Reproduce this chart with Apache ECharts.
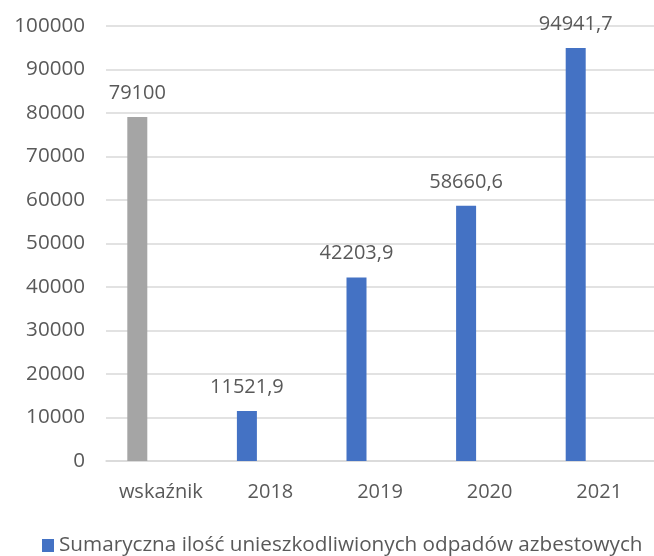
<!DOCTYPE html>
<html>
<head>
<meta charset="utf-8">
<script src="https://cdn.jsdelivr.net/npm/echarts@6/dist/echarts.min.js"></script>
<style>
  html, body { margin: 0; padding: 0; background: #ffffff; }
  #chart { width: 654px; height: 556px; }
</style>
</head>
<body>
<div id="chart"></div>
<script>
// Categories on the x axis
const categories = ['wskaźnik', '2018', '2019', '2020', '2021'];
// Total amount of neutralised asbestos waste (first column is the target indicator)
const values = [79100, 11521.9, 42203.9, 58660.6, 94941.7];
const seriesName = 'Sumaryczna ilość unieszkodliwionych odpadów azbestowych';
// Y axis ticks
const yMin = 0, yMax = 100000, yStep = 10000;

const BLUE = '#4472C4';
const GREY = '#A5A5A5';
const TEXT = '#595959';
const GRID = '#D9D9D9';
const FONT = '"Open Sans", sans-serif';

const barData = values.map((v, i) => ({
  value: v,
  itemStyle: { color: categories[i] === 'wskaźnik' ? GREY : BLUE }
}));

const chart = echarts.init(document.getElementById('chart'), null, { renderer: 'canvas' });
chart.setOption({
  animation: false,
  backgroundColor: '#ffffff',
  textStyle: { fontFamily: FONT },
  grid: { left: 106, right: -7, top: 26, bottom: 95, containLabel: false },
  legend: {
    data: [{ name: seriesName, itemStyle: { color: BLUE } }],
    left: 42,
    top: 535,
    padding: 0,
    itemWidth: 12,
    itemHeight: 13,
    icon: 'rect',
    textStyle: { color: TEXT, fontSize: 20.7, fontFamily: FONT, padding: [0, 0, 0, 0] }
  },
  xAxis: {
    type: 'category',
    data: categories,
    axisTick: { show: false },
    axisLine: { lineStyle: { color: GRID, width: 1.5 } },
    axisLabel: { color: TEXT, fontSize: 20, fontFamily: FONT, margin: 21 }
  },
  yAxis: {
    type: 'value',
    min: yMin,
    max: yMax,
    interval: yStep,
    axisLine: { show: false },
    axisTick: { show: false },
    splitLine: { lineStyle: { color: GRID, width: 1.5 } },
    axisLabel: {
      color: TEXT, fontSize: 20.6, fontFamily: FONT, margin: 21,
      formatter: v => String(v)
    }
  },
  series: [
    {
      name: seriesName,
      type: 'bar',
      data: barData,
      barWidth: 20,
      barGap: '135%',
      itemStyle: { color: BLUE },
      label: {
        show: true,
        position: 'top',
        distance: 14,
        color: TEXT,
        fontSize: 20,
        fontFamily: FONT,
        formatter: p => String(p.value).replace('.', ',')
      }
    },
    {
      name: 'druga seria',
      type: 'bar',
      data: categories.map(() => null),
      barWidth: 20
    }
  ]
});
</script>
</body>
</html>
